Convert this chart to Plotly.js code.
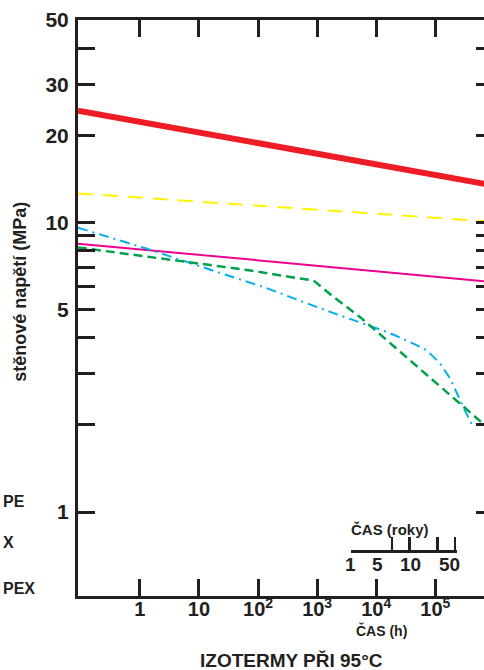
<!DOCTYPE html>
<html>
<head>
<meta charset="utf-8">
<script src="https://cdn.plot.ly/plotly-3.0.1.min.js"></script>
<style>
html,body{margin:0;padding:0;overflow:hidden;background:#fff;}
#chart{width:500px;height:670px;}
</style>
</head>
<body>
<div id="chart"></div>
<script>
// time in hours, stress in MPa
const redHours = [0.09, 1e6];
const redStress = [24.3, 13.4];
const yellowHours = [0.09, 1e6];
const yellowStress = [12.6, 10.05];
const magentaHours = [0.09, 1e6];
const magentaStress = [8.45, 6.22];
const cyanHours = [0.09, 1.33, 23, 125, 1660, 15100, 37000, 71600, 120000, 178000, 295000, 417000];
const cyanStress = [9.59, 8.11, 6.69, 5.98, 4.91, 4.19, 3.87, 3.62, 3.26, 2.89, 2.31, 2.0];
const greenHours = [0.09, 74, 520, 870, 1900, 5350, 15100, 42700, 120000, 339000, 660000, 944000];
const greenStress = [8.2, 6.83, 6.4, 6.3, 5.53, 4.71, 3.92, 3.26, 2.70, 2.25, 2.01, 1.89];

const xTickVals = [1, 10, 100, 1000, 10000, 100000];
const xTickText = ["1", "10", "10<sup>2</sup>", "10<sup>3</sup>", "10<sup>4</sup>", "10<sup>5</sup>"];
const yTickVals = [1, 5, 10, 20, 30, 50];
const yTickText = ["1", "5", "10", "20", "30", "50"];
const yMinorVals = [2, 3, 4, 6, 7, 8, 9, 40];
const yearTickVals = [1, 5, 10, 30, 60];
const yearLabels = ["1", "5", "10", "50"];
const legendLabels = ["PE", "X", "PEX"];

const FONT = "Liberation Sans, Arial, Helvetica, sans-serif";
const INK = "#231f20";

// pixel helpers for layout placement (plot area: x 77.5..493, y 19.5..596)
const px = v => (v - 77.5) / 415.5;
const py = v => (596 - v) / 576.5;

const traces = [
  {x: redHours, y: redStress, mode: "lines", line: {color: "#ee1c24", width: 6}},
  {x: yellowHours, y: yellowStress, mode: "lines", line: {color: "#fff200", width: 2, dash: "15px,10px"}},
  {x: magentaHours, y: magentaStress, mode: "lines", line: {color: "#ec008c", width: 2}},
  {x: cyanHours, y: cyanStress, mode: "lines", line: {color: "#00aeef", width: 2, dash: "10px,5px,2px,5px"}},
  {x: greenHours, y: greenStress, mode: "lines", line: {color: "#00a14b", width: 2.5, dash: "9px,5px"}},
  {x: [], y: [], xaxis: "x2", yaxis: "y2", mode: "lines", hoverinfo: "skip"}
];

const yearLabelPos = [0.0, 0.461, 1.017, 1.677];
const annotations = [];
yearLabels.forEach((t, i) => annotations.push({
  xref: "x2", yref: "paper", x: yearLabelPos[i], y: py(564), text: t, showarrow: false,
  xanchor: "center", yanchor: "middle", font: {family: FONT, size: 19, color: INK, weight: "bold"}
}));
annotations.push({xref: "paper", yref: "paper", x: px(390), y: py(529), text: "ČAS (roky)", showarrow: false,
  xanchor: "center", yanchor: "middle", font: {family: FONT, size: 15, color: INK, weight: "bold"}});
annotations.push({xref: "paper", yref: "paper", x: px(381), y: py(631), text: "ČAS (h)", showarrow: false,
  xanchor: "center", yanchor: "middle", font: {family: FONT, size: 14, color: INK, weight: "bold"}});
annotations.push({xref: "paper", yref: "paper", x: px(291.7), y: py(661), text: "IZOTERMY PŘI 95°C", showarrow: false,
  xanchor: "center", yanchor: "middle", font: {family: FONT, size: 19, color: INK, weight: "bold"}});
annotations.push({xref: "paper", yref: "paper", x: px(20), y: py(292), text: "stěnové napětí (MPa)", showarrow: false,
  textangle: -90, xanchor: "center", yanchor: "middle", font: {family: FONT, size: 18, color: INK, weight: "bold"}});
const legendY = [501, 542, 588];
legendLabels.forEach((t, i) => annotations.push({
  xref: "paper", yref: "paper", x: px(0), y: py(legendY[i]), text: t, showarrow: false,
  xanchor: "left", yanchor: "middle", font: {family: FONT, size: 16, color: INK, weight: "bold"}
}));

const layout = {
  width: 500, height: 670,
  margin: {l: 77.5, r: 7, t: 19.5, b: 74, pad: 0},
  paper_bgcolor: "#ffffff", plot_bgcolor: "rgba(0,0,0,0)",
  showlegend: false,
  font: {family: FONT, color: INK},
  xaxis: {
    type: "log", range: [-1.046, 5.975], domain: [0, 1],
    showgrid: false, zeroline: false,
    showline: true, linecolor: INK, linewidth: 3, mirror: "ticks",
    ticks: "inside", ticklen: 17, tickwidth: 3, tickcolor: INK,
    tickvals: xTickVals, ticktext: xTickText,
    tickfont: {family: FONT, size: 20, color: INK, weight: "bold"},
    ticklabelstandoff: -7
  },
  yaxis: {
    type: "log", range: [-0.2897, 1.699],
    showgrid: false, zeroline: false,
    showline: true, linecolor: INK, linewidth: 3, mirror: "ticks",
    ticks: "inside", ticklen: 17, tickwidth: 3, tickcolor: INK,
    tickvals: yTickVals, ticktext: yTickText,
    minor: {tickvals: yMinorVals, ticks: "inside", ticklen: 17, tickwidth: 3, tickcolor: INK, showgrid: false},
    tickfont: {family: FONT, size: 21, color: INK, weight: "bold"},
    ticklabelstandoff: 2
  },
  xaxis2: {
    type: "log", range: [0, 1.809], domain: [px(350.7), px(456.7)], anchor: "y2",
    showgrid: false, zeroline: false,
    showline: true, linecolor: INK, linewidth: 3,
    ticks: "inside", ticklen: 13, tickwidth: 2.5, tickcolor: INK,
    tickvals: yearTickVals, showticklabels: false
  },
  yaxis2: {
    domain: [py(550), py(550) + 0.002], anchor: "x2", visible: false, range: [0, 1]
  },
  annotations: annotations
};

Plotly.newPlot("chart", traces, layout, {staticPlot: true, displayModeBar: false});
</script>
</body>
</html>
